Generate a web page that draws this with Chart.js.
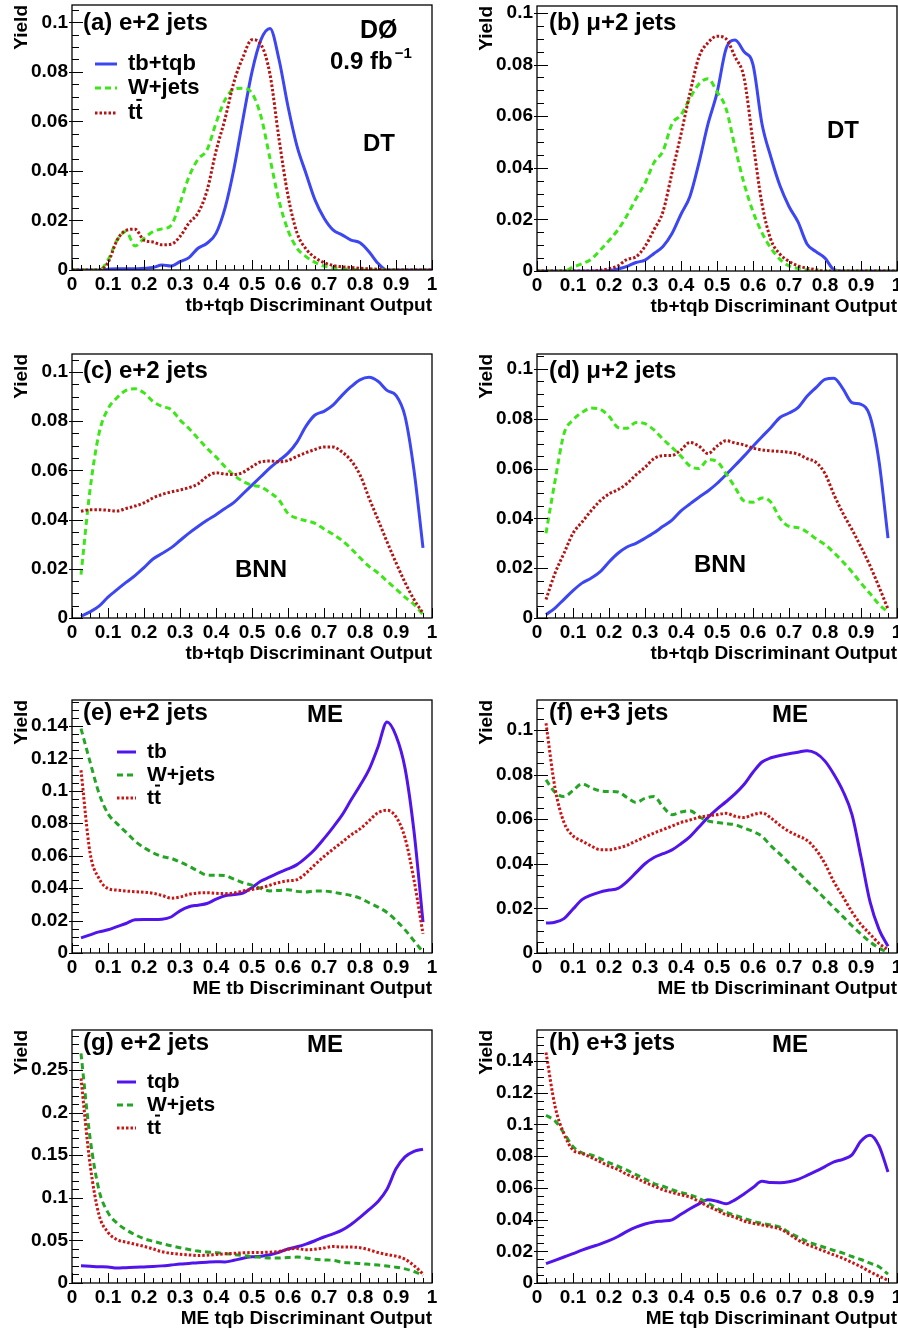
<!DOCTYPE html>
<html><head><meta charset="utf-8">
<script src="https://cdn.jsdelivr.net/npm/chart.js@4.4.1/dist/chart.umd.min.js"></script>
<style>
html,body{margin:0;padding:0;background:#fff;}
body{position:relative;width:898px;height:1330px;overflow:hidden;}
canvas{position:absolute;}
</style></head><body>
<script>
// ---------- data ----------
const xDT = [0,0.025,0.05,0.075,0.1,0.125,0.15,0.175,0.2,0.225,0.25,0.275,0.3,0.325,0.35,0.375,0.4,0.425,0.45,0.475,0.5,0.525,0.55,0.575,0.6,0.625,0.65,0.675,0.7,0.725,0.75,0.775,0.8,0.825,0.85,0.875,0.9,0.925,0.95,0.975,1];
const xME = [0.025,0.05,0.075,0.1,0.125,0.15,0.175,0.2,0.225,0.25,0.275,0.3,0.325,0.35,0.375,0.4,0.425,0.45,0.475,0.5,0.525,0.55,0.575,0.6,0.625,0.65,0.675,0.7,0.725,0.75,0.775,0.8,0.825,0.85,0.875,0.9,0.925,0.95,0.975];

const aSig = [0,0,0,0,0.0003,0.0005,0.0005,0.0005,0.0007,0.001,0.002,0.0016,0.0034,0.005,0.0088,0.0108,0.0148,0.025,0.041,0.061,0.08,0.093,0.0975,0.085,0.066,0.05,0.039,0.0283,0.021,0.0162,0.0142,0.0121,0.011,0.0074,0.0027,0,0,0,0,0,0];
const aW   = [0,0,0,0,0.004,0.012,0.0155,0.0097,0.0128,0.0155,0.0166,0.018,0.027,0.0377,0.0447,0.0485,0.0593,0.0687,0.073,0.0734,0.0714,0.062,0.045,0.028,0.016,0.0088,0.0054,0.0031,0.0016,0.0009,0.0005,0.0003,0,0,0,0,0,0,0,0,0];
const aTT  = [0,0,0,0,0.003,0.012,0.016,0.0165,0.012,0.0113,0.0102,0.0104,0.0135,0.019,0.023,0.032,0.048,0.061,0.076,0.086,0.093,0.091,0.079,0.053,0.03,0.015,0.0085,0.005,0.003,0.0018,0.0013,0.001,0.0007,0.0005,0.0003,0,0,0,0,0,0];

const bSig = [0,0,0,0,0,0,0,0,0.0002,0.0008,0.0018,0.0033,0.0042,0.0068,0.0095,0.0145,0.022,0.029,0.042,0.057,0.069,0.086,0.0895,0.085,0.08,0.057,0.044,0.033,0.025,0.019,0.0105,0.0075,0.005,0.0005,0,0,0,0,0,0,0];
const bW   = [0,0,0,0,0.0015,0.0028,0.0045,0.008,0.0118,0.016,0.0215,0.028,0.034,0.042,0.0465,0.057,0.0605,0.067,0.0725,0.0745,0.0695,0.063,0.048,0.034,0.023,0.0148,0.0088,0.0045,0.002,0.001,0.0003,0,0,0,0,0,0,0,0,0,0];
const bTT  = [0,0,0,0,0,0,0,0.0003,0.0009,0.002,0.0045,0.0055,0.0095,0.016,0.023,0.038,0.053,0.069,0.083,0.0885,0.091,0.09,0.083,0.075,0.05,0.026,0.012,0.0065,0.0037,0.002,0.0011,0.0005,0,0,0,0,0,0,0,0,0];

const cSig = [0.0007,0.0025,0.0048,0.0085,0.0115,0.0145,0.0172,0.0205,0.024,0.0262,0.0285,0.0315,0.0345,0.0372,0.0397,0.042,0.0445,0.047,0.0505,0.054,0.0575,0.061,0.064,0.067,0.0715,0.078,0.0825,0.084,0.0865,0.0905,0.094,0.0968,0.0978,0.0962,0.0925,0.0905,0.082,0.06,0.0285];
const cW   = [0.0176,0.052,0.075,0.085,0.0895,0.0925,0.0932,0.0915,0.088,0.086,0.0848,0.0805,0.077,0.073,0.069,0.0655,0.0615,0.058,0.0555,0.054,0.0532,0.051,0.048,0.0425,0.0405,0.0395,0.0385,0.0362,0.034,0.0315,0.0282,0.0245,0.021,0.0183,0.015,0.0118,0.0085,0.0055,0.0014];
const cTT  = [0.0434,0.044,0.044,0.0438,0.0435,0.0445,0.0455,0.0468,0.0488,0.0502,0.0512,0.052,0.053,0.0545,0.0575,0.059,0.0585,0.0583,0.0592,0.0615,0.0635,0.0638,0.0635,0.064,0.0657,0.0672,0.0685,0.0695,0.0695,0.0675,0.064,0.0582,0.0488,0.04,0.031,0.0225,0.0145,0.0075,0.002];

const dSig = [0.0013,0.004,0.0075,0.011,0.014,0.016,0.0185,0.0225,0.026,0.0285,0.03,0.032,0.0342,0.0368,0.0393,0.043,0.0458,0.0485,0.051,0.054,0.0575,0.0612,0.065,0.069,0.0728,0.0765,0.0805,0.0823,0.0845,0.089,0.0925,0.0958,0.0963,0.092,0.0865,0.0858,0.081,0.063,0.0321];
const dW   = [0.034,0.055,0.074,0.0795,0.0825,0.0843,0.0838,0.081,0.0765,0.0762,0.0785,0.078,0.0755,0.0718,0.0685,0.065,0.061,0.06,0.0635,0.0628,0.058,0.0525,0.047,0.0465,0.0482,0.0465,0.04,0.0368,0.0363,0.0345,0.0318,0.0295,0.0262,0.0225,0.0185,0.014,0.0098,0.0055,0.0023];
const dTT  = [0.0074,0.018,0.026,0.034,0.0385,0.043,0.047,0.0498,0.0515,0.054,0.0575,0.0605,0.064,0.0652,0.0653,0.0675,0.0705,0.069,0.066,0.069,0.0712,0.0703,0.0695,0.0682,0.0675,0.0671,0.0669,0.0665,0.0658,0.064,0.0625,0.058,0.0495,0.042,0.0355,0.0285,0.021,0.0125,0.0036];

const eSig = [0.0093,0.0112,0.013,0.0143,0.0163,0.0182,0.0205,0.0206,0.0206,0.0208,0.0222,0.026,0.0285,0.0295,0.0305,0.0332,0.0353,0.036,0.037,0.0403,0.0444,0.0469,0.0495,0.0518,0.0545,0.0588,0.064,0.0705,0.0775,0.085,0.0943,0.1033,0.113,0.127,0.1425,0.134,0.114,0.075,0.0191];
const eW   = [0.1384,0.118,0.0985,0.0859,0.0798,0.0745,0.069,0.065,0.0618,0.0595,0.0584,0.0561,0.0535,0.0505,0.048,0.0479,0.0477,0.0455,0.0433,0.0418,0.0398,0.0383,0.0386,0.039,0.038,0.0376,0.0382,0.0382,0.0375,0.0365,0.0355,0.0338,0.031,0.0283,0.025,0.0201,0.0143,0.0075,0.0006];
const eTT  = [0.1127,0.062,0.046,0.0397,0.0388,0.0382,0.0378,0.0375,0.0368,0.0355,0.0338,0.0345,0.0362,0.037,0.0372,0.0368,0.0366,0.037,0.0382,0.0392,0.0402,0.0418,0.0435,0.0445,0.0452,0.0492,0.0545,0.0595,0.064,0.0683,0.0728,0.0765,0.0815,0.0865,0.088,0.084,0.071,0.045,0.0119];

const fSig = [0.0134,0.0138,0.0154,0.0197,0.0239,0.0259,0.0273,0.0282,0.029,0.032,0.036,0.04,0.0428,0.0445,0.0462,0.049,0.0522,0.0565,0.0608,0.0645,0.0678,0.0713,0.0755,0.081,0.0856,0.0875,0.0885,0.0893,0.09,0.0907,0.0895,0.086,0.08,0.0725,0.062,0.043,0.023,0.0106,0.003];
const fW   = [0.0776,0.072,0.0701,0.0728,0.0758,0.0741,0.0727,0.0724,0.0722,0.0697,0.0675,0.0693,0.0701,0.0655,0.062,0.0632,0.0638,0.0612,0.0592,0.0585,0.058,0.0575,0.056,0.0545,0.0523,0.048,0.0443,0.0403,0.0363,0.0322,0.0284,0.0243,0.0203,0.0163,0.0122,0.0085,0.005,0.0022,0.0003];
const fTT  = [0.103,0.074,0.0585,0.0525,0.0502,0.048,0.0463,0.0463,0.047,0.0483,0.0502,0.052,0.0538,0.0553,0.0569,0.0585,0.0596,0.0608,0.0615,0.062,0.0626,0.0613,0.0607,0.062,0.0628,0.0605,0.0572,0.0545,0.0525,0.0505,0.0463,0.04,0.0318,0.0252,0.0184,0.0128,0.0085,0.0043,0.0015];

const gSig = [0.0203,0.0197,0.0191,0.0188,0.0176,0.018,0.0184,0.0189,0.0194,0.0201,0.0211,0.0222,0.023,0.0239,0.0245,0.0249,0.0247,0.0266,0.0291,0.0307,0.0315,0.0332,0.036,0.04,0.0425,0.0457,0.0496,0.054,0.0577,0.062,0.0687,0.077,0.086,0.0957,0.11,0.134,0.148,0.1546,0.157];
const gW   = [0.2695,0.171,0.109,0.0826,0.0703,0.0626,0.0567,0.052,0.049,0.0463,0.0437,0.0414,0.0393,0.0375,0.0365,0.0356,0.0346,0.0333,0.0322,0.0308,0.0302,0.0293,0.0293,0.03,0.0304,0.0294,0.0279,0.0271,0.0266,0.0244,0.0235,0.0228,0.0219,0.021,0.0199,0.0186,0.0166,0.0135,0.009];
const gTT  = [0.2402,0.14,0.08,0.0595,0.0508,0.048,0.0455,0.043,0.04,0.0367,0.0349,0.0338,0.033,0.0322,0.0326,0.0334,0.0342,0.0348,0.0354,0.0358,0.0359,0.0362,0.037,0.0395,0.0405,0.039,0.0396,0.0412,0.0428,0.0422,0.0422,0.0415,0.039,0.0358,0.0334,0.0315,0.028,0.0205,0.0105];

const hSig = [0.0122,0.0143,0.0164,0.0185,0.0207,0.0227,0.0245,0.0267,0.0293,0.0325,0.0352,0.0372,0.0385,0.0391,0.0398,0.0433,0.0468,0.0499,0.0525,0.0515,0.0499,0.0524,0.0561,0.0602,0.0641,0.0633,0.0632,0.0638,0.0653,0.0678,0.0705,0.0734,0.0764,0.078,0.0808,0.0895,0.0932,0.0865,0.07];
const hW   = [0.1057,0.1022,0.0945,0.086,0.0821,0.0807,0.0785,0.0759,0.0736,0.0711,0.0683,0.0655,0.0627,0.061,0.0588,0.0571,0.0556,0.0534,0.0504,0.0471,0.0446,0.0426,0.0408,0.0389,0.0376,0.0365,0.0352,0.0318,0.029,0.0262,0.0242,0.0224,0.0205,0.0188,0.0167,0.0148,0.0125,0.0102,0.0056];
const hTT  = [0.1453,0.1115,0.094,0.0838,0.0817,0.0792,0.0765,0.0737,0.0715,0.0685,0.0662,0.0634,0.0611,0.0588,0.057,0.0556,0.0541,0.0514,0.0483,0.0459,0.043,0.0414,0.0391,0.0377,0.0366,0.0355,0.0341,0.0309,0.0271,0.0243,0.0221,0.0199,0.0177,0.0156,0.0129,0.0103,0.0071,0.0043,0.0017];

const namesComb = ['tb+tqb','W+jets','tt\u0304'];
const namesTb   = ['tb','W+jets','tt\u0304'];
const namesTqb  = ['tqb','W+jets','tt\u0304'];
const xTitleComb = 'tb+tqb Discriminant Output';
const xTitleTb   = 'ME tb Discriminant Output';
const xTitleTqb  = 'ME tqb Discriminant Output';
const yTitle = 'Yield';

// ---------- style ----------
const FONT = '"Liberation Sans", Arial, Helvetica, sans-serif';
Chart.defaults.font.family = FONT;
Chart.defaults.color = '#000';
const PAD = {l:62, t:30, r:30, b:47};
const COL1 = {sig:'#3c46f2', w:'#3de619', tt:'#b41414'};
const COL2 = {sig:'#5214ec', w:'#25a525', tt:'#cc1414'};

const panels = [
 {L:72,T:5,W:360,H:265,ymax:0.107,ystep:0.02,yminor:0.005,x:xDT,s:[aSig,aW,aTT],names:namesComb,col:COL1,xt:xTitleComb,
  texts:[{t:'(a) e+2 jets',x:83,y:23,s:24},{t:'DØ',x:360,y:31,s:25},{t:'0.9 fb',x:330,y:62,s:24,sup:'\u22121'},{t:'DT',x:363,y:144,s:24}],
  legend:{x0:95,x1:117,tx:128,ys:[64,88,113],s:22}},
 {L:537,T:6,W:360,H:265,ymax:0.1027,ystep:0.02,yminor:0.005,x:xDT,s:[bSig,bW,bTT],names:namesComb,col:COL1,xt:xTitleComb,
  texts:[{t:'(b) \u03bc+2 jets',x:549,y:23,s:24},{t:'DT',x:827,y:131,s:24}]},
 {L:72,T:354,W:360,H:264,ymax:0.1073,ystep:0.02,yminor:0.005,x:xME,s:[cSig,cW,cTT],names:namesComb,col:COL1,xt:xTitleComb,
  texts:[{t:'(c) e+2 jets',x:83,y:371,s:24},{t:'BNN',x:235,y:570,s:24}]},
 {L:537,T:354,W:360,H:264,ymax:0.106,ystep:0.02,yminor:0.005,x:xME,s:[dSig,dW,dTT],names:namesComb,col:COL1,xt:xTitleComb,
  texts:[{t:'(d) \u03bc+2 jets',x:549,y:371,s:24},{t:'BNN',x:694,y:565,s:24}]},
 {L:72,T:700,W:360,H:253,ymax:0.156,ystep:0.02,yminor:0.005,x:xME,s:[eSig,eW,eTT],names:namesTb,col:COL2,xt:xTitleTb,
  texts:[{t:'(e) e+2 jets',x:83,y:713,s:24},{t:'ME',x:307,y:715,s:24}],
  legend:{x0:117,x1:136,tx:147,ys:[752,775,798],s:21}},
 {L:537,T:700,W:360,H:253,ymax:0.1134,ystep:0.02,yminor:0.005,x:xME,s:[fSig,fW,fTT],names:namesTb,col:COL2,xt:xTitleTb,
  texts:[{t:'(f) e+3 jets',x:549,y:713,s:24},{t:'ME',x:772,y:715,s:24}]},
 {L:72,T:1030,W:360,H:253,ymax:0.297,ystep:0.05,yminor:0.01,x:xME,s:[gSig,gW,gTT],names:namesTqb,col:COL2,xt:xTitleTqb,
  texts:[{t:'(g) e+2 jets',x:83,y:1043,s:24},{t:'ME',x:307,y:1045,s:24}],
  legend:{x0:117,x1:136,tx:147,ys:[1082,1105,1128],s:21}},
 {L:537,T:1030,W:360,H:253,ymax:0.1595,ystep:0.02,yminor:0.005,x:xME,s:[hSig,hW,hTT],names:namesTqb,col:COL2,xt:xTitleTqb,
  texts:[{t:'(h) e+3 jets',x:549,y:1043,s:24},{t:'ME',x:772,y:1045,s:24}]}
];

const fmt = v => String(Math.round(v*1000)/1000);

function makeDeco(p, ox, oy){
  return {
    id:'deco',
    afterDraw(chart){
      const {ctx, chartArea:ca} = chart;
      const xs = chart.scales.x, ys = chart.scales.y;
      ctx.save();
      ctx.strokeStyle = '#000';
      ctx.lineWidth = 1;
      ctx.setLineDash([]);
      ctx.beginPath();
      for (let i = 0; i <= 40; i++) {
        const px = Math.round(xs.getPixelForValue(i*0.025)) + 0.5;
        const len = (i % 4 === 0) ? 10 : 5;
        ctx.moveTo(px, ca.bottom); ctx.lineTo(px, ca.bottom - len);
      }
      const n = Math.floor(p.ymax / p.yminor + 1e-6);
      const ratio = Math.round(p.ystep / p.yminor);
      for (let i = 0; i <= n; i++) {
        const py = Math.round(ys.getPixelForValue(i*p.yminor)) + 0.5;
        const major = (i % ratio === 0);
        ctx.moveTo(ca.left - (major ? 3 : 0), py); ctx.lineTo(ca.left + (major ? 11 : 7), py);
      }
      ctx.stroke();
      ctx.lineWidth = 1.3;
      ctx.strokeRect(ca.left, ca.top, ca.right - ca.left, ca.bottom - ca.top);

      ctx.fillStyle = '#000';
      ctx.textBaseline = 'middle';
      ctx.textAlign = 'left';
      p.texts.forEach(t => {
        ctx.font = `bold ${t.s}px ${FONT}`;
        ctx.fillText(t.t, t.x - ox, t.y - oy);
        if (t.sup) {
          const w = ctx.measureText(t.t).width;
          ctx.font = `bold ${Math.round(t.s*0.62)}px ${FONT}`;
          ctx.fillText(t.sup, t.x - ox + w + 2, t.y - oy - 8);
        }
      });
      if (p.legend) {
        const lg = p.legend;
        chart.data.datasets.forEach((ds, i) => {
          const y = lg.ys[i] - oy;
          ctx.save();
          ctx.strokeStyle = ds.borderColor;
          ctx.lineWidth = ds.borderWidth;
          ctx.setLineDash(ds.borderDash || []);
          ctx.beginPath(); ctx.moveTo(lg.x0 - ox, y); ctx.lineTo(lg.x1 - ox, y); ctx.stroke();
          ctx.restore();
          ctx.font = `bold ${lg.s}px ${FONT}`;
          let label = ds.label, bar = false;
          if (label.endsWith('\u0304')) { label = label.slice(0, -1); bar = true; }
          ctx.fillText(label, lg.tx - ox, y);
          if (bar) {
            const w1 = ctx.measureText(label.slice(0, -1)).width;
            const w2 = ctx.measureText(label).width;
            ctx.fillRect(lg.tx - ox + w1 + 1, y - lg.s*0.64, w2 - w1 - 2, 2);
          }
        });
      }
      ctx.restore();
    }
  };
}

panels.forEach(p => {
  const cv = document.createElement('canvas');
  const ox = p.L - PAD.l, oy = p.T - PAD.t;
  const w = p.W + PAD.l + PAD.r, h = p.H + PAD.t + PAD.b;
  cv.width = w; cv.height = h;
  cv.style.left = ox + 'px'; cv.style.top = oy + 'px';
  cv.style.width = w + 'px'; cv.style.height = h + 'px';
  document.body.appendChild(cv);
  const mk = (label, ys, color, dash, order) => ({
    label, data: p.x.map((x, i) => ({x, y: ys[i]})),
    borderColor: color, borderWidth: 3, borderDash: dash, borderCapStyle: 'butt',
    pointRadius: 0, fill: false, cubicInterpolationMode: 'monotone', order
  });
  const tickFont = {size: 19, weight: 'bold', family: FONT};
  new Chart(cv, {
    type: 'line',
    data: {datasets: [
      mk(p.names[0], p.s[0], p.col.sig, [], 3),
      mk(p.names[1], p.s[1], p.col.w, [6,4], 2),
      mk(p.names[2], p.s[2], p.col.tt, [2.5,2], 1)
    ]},
    options: {
      responsive: false, animation: false, devicePixelRatio: 1, events: [],
      layout: {padding: {left: 0, top: PAD.t, right: PAD.r, bottom: 0}},
      plugins: {legend: {display: false}, tooltip: {enabled: false}},
      scales: {
        x: {type: 'linear', min: 0, max: 1,
            ticks: {stepSize: 0.1, autoSkip: false, maxRotation: 0, padding: 3, font: tickFont, color: '#000', callback: fmt},
            grid: {display: false, drawTicks: false}, border: {display: false},
            title: {display: true, text: p.xt, align: 'end', font: {size: 19, weight: 'bold', family: FONT}, color: '#000', padding: 0},
            afterFit(s){ s.height = PAD.b; }},
        y: {type: 'linear', min: 0, max: p.ymax,
            ticks: {stepSize: p.ystep, includeBounds: false, padding: 4, font: tickFont, color: '#000', callback: fmt},
            grid: {display: false, drawTicks: false}, border: {display: false},
            title: {display: true, text: yTitle, align: 'end', font: {size: 19, weight: 'bold', family: FONT}, color: '#000', padding: 0},
            afterFit(s){ s.width = PAD.l; }}
      }
    },
    plugins: [makeDeco(p, ox, oy)]
  });
});
</script>
</body></html>
